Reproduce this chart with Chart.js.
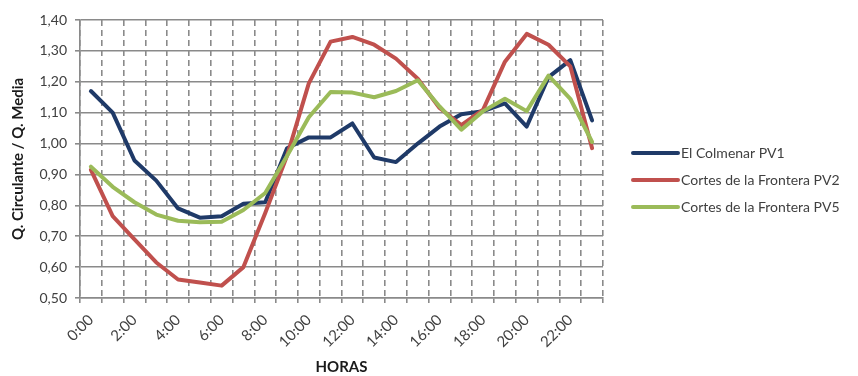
<!DOCTYPE html>
<html>
<head>
<meta charset="utf-8">
<script src="https://cdn.jsdelivr.net/npm/chart.js@4/dist/chart.umd.min.js"></script>
<style>
  html, body { margin: 0; padding: 0; background: #fff; }
  #wrap { width: 858px; height: 376px; }
</style>
</head>
<body>
<div id="wrap"><canvas id="chart" width="858" height="376"></canvas></div>
<script>
// horas del día (eje X)
const horas = ["0:00", "1:00", "2:00", "3:00", "4:00", "5:00", "6:00", "7:00", "8:00", "9:00",
  "10:00", "11:00", "12:00", "13:00", "14:00", "15:00", "16:00", "17:00", "18:00", "19:00",
  "20:00", "21:00", "22:00", "23:00"]

// Q. circulante / Q. media
const colmenarPV1 = [1.17, 1.10, 0.945, 0.88, 0.79, 0.76, 0.765, 0.805, 0.81, 0.985, 1.02, 1.02,
  1.065, 0.955, 0.94, 1.00, 1.055, 1.095, 1.105, 1.13, 1.055, 1.215, 1.27, 1.075]
const cortesPV2 = [0.915, 0.765, 0.69, 0.615, 0.56, 0.55, 0.54, 0.60, 0.775, 0.96, 1.195, 1.33,
  1.345, 1.32, 1.275, 1.21, 1.115, 1.06, 1.11, 1.265, 1.355, 1.32, 1.25, 0.985]
const cortesPV5 = [0.925, 0.86, 0.81, 0.77, 0.75, 0.745, 0.747, 0.785, 0.84, 0.96, 1.085, 1.167,
  1.165, 1.15, 1.17, 1.205, 1.12, 1.045, 1.105, 1.145, 1.105, 1.22, 1.145, 1.005]

const seriesNames = ["El Colmenar PV1", "Cortes de la Frontera PV2", "Cortes de la Frontera PV5"]
const seriesColors = ["#1f3a68", "#c0504d", "#9bbb59"]

const yMin = 0.5
const yMax = 1.4
const yStep = 0.1

const FONT = "Lato, 'Open Sans', sans-serif"
const gridColor = "#8a8a8a"
const textColor = "#404040"

// legend drawn by hand so it sits where the original one is
const legendPlugin = {
  id: "sideLegend",
  afterDraw(chart) {
    const ctx = chart.ctx
    const x0 = 633
    const lineLen = 45
    const top = 153
    const rowH = 27
    ctx.save()
    ctx.font = "14px " + FONT
    ctx.textBaseline = "middle"
    ctx.textAlign = "left"
    chart.data.datasets.forEach((ds, i) => {
      const y = top + i * rowH
      ctx.strokeStyle = ds.borderColor
      ctx.lineWidth = 4
      ctx.lineCap = "round"
      ctx.beginPath()
      ctx.moveTo(x0, y)
      ctx.lineTo(x0 + lineLen, y)
      ctx.stroke()
      ctx.fillStyle = textColor
      ctx.fillText(ds.label, x0 + lineLen + 3, y)
    })
    ctx.restore()
  },
}

const makeDataset = (i, values, order) => ({
  label: seriesNames[i],
  data: values,
  borderColor: seriesColors[i],
  backgroundColor: seriesColors[i],
  borderWidth: 4,
  pointRadius: 0,
  tension: 0,
  fill: false,
  borderJoinStyle: "round",
  borderCapStyle: "round",
  order: order,
})

new Chart(document.getElementById("chart"), {
  type: "line",
  data: {
    labels: horas,
    datasets: [
      makeDataset(0, colmenarPV1, 2),
      makeDataset(1, cortesPV2, 1),
      makeDataset(2, cortesPV5, 0),
    ],
  },
  options: {
    responsive: false,
    animation: false,
    devicePixelRatio: 1,
    layout: { padding: { left: 0, top: 20, right: 255, bottom: 0 } },
    plugins: {
      legend: { display: false },
      tooltip: { enabled: false },
    },
    scales: {
      x: {
        offset: true,
        grid: {
          offset: true,
          color: gridColor,
          lineWidth: 1.6,
          tickLength: 5,
          tickColor: gridColor,
          tickWidth: 1.6,
          tickBorderDash: [],
        },
        border: { color: gridColor, width: 1.6, dash: [6, 4] },
        ticks: {
          autoSkip: false,
          minRotation: 45,
          maxRotation: 45,
          padding: 8,
          color: textColor,
          font: { family: FONT, size: 15 },
          callback: (v, i) => (i % 2 === 0 ? horas[i] : ""),
        },
        title: {
          display: true,
          text: "HORAS",
          color: "#1a1a1a",
          font: { family: FONT, size: 15, weight: "bold" },
          padding: { top: 0, bottom: 0 },
        },
        afterFit: (scale) => { scale.height = 78 },
      },
      y: {
        min: yMin,
        max: yMax,
        grid: {
          color: gridColor,
          lineWidth: 1.6,
          tickLength: 5,
          tickColor: gridColor,
        },
        border: { color: gridColor, width: 1.6 },
        ticks: {
          stepSize: yStep,
          padding: 8,
          color: textColor,
          font: { family: FONT, size: 14 },
          callback: (v) => v.toFixed(2).replace(".", ","),
        },
        title: {
          display: true,
          text: "Q. Circulante / Q. Media",
          color: "#1a1a1a",
          font: { family: FONT, size: 15, weight: "bold" },
          padding: { top: 9, bottom: 0 },
        },
        afterFit: (scale) => { scale.width = 80 },
      },
    },
  },
  plugins: [legendPlugin],
})
</script>
</body>
</html>
